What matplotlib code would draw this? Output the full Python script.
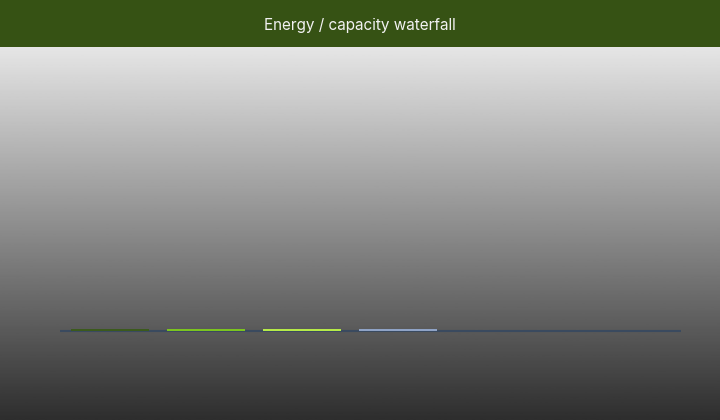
import numpy as np
import matplotlib
matplotlib.use('Agg')
import matplotlib.pyplot as plt

# waterfall data (steps are all close to zero on this scale)
steps = ['Step 1', 'Step 2', 'Step 3', 'Step 4']
values = [2.0, 0.0, 0.0, 0.0]
heights = [2.0, 2.0, 2.0, 2.0]
colors = ['#3b5a1c', '#7cc41f', '#b6ea48', '#8fa3c6']
title = 'Energy / capacity waterfall'

fig = plt.figure(figsize=(7.2, 4.2), dpi=100)

# gradient background below the title bar
bg = fig.add_axes([0, 0, 1, 373 / 420])
grad = np.linspace(0.90, 0.18, 256).reshape(-1, 1)
bg.imshow(grad, aspect='auto', cmap='gray', vmin=0, vmax=1, extent=[0, 1, 0, 1])
bg.set_axis_off()

# title bar
bar = fig.add_axes([0, 373 / 420, 1, 47 / 420])
bar.set_facecolor('#365214')
bar.set_xticks([])
bar.set_yticks([])
for s in bar.spines.values():
    s.set_visible(False)
bar.text(0.5, 0.45, title, ha='center', va='center', color='#f2f2f2',
         fontsize=11, family=['Inter', 'DejaVu Sans'])

# plot area
ax = fig.add_axes([60 / 720, 0, 621 / 720, 373 / 420])
ax.patch.set_alpha(0)
x = np.arange(len(steps))
ax.axhline(0, color='#3a4a5f', linewidth=1.5, zorder=1)
ax.bar(x, heights, width=0.82, color=colors, linewidth=0, zorder=2)
ax.set_xlim(-0.52, 5.95)
ax.set_ylim(-89, 284)
ax.set_axis_off()

plt.savefig('out.png', dpi=100)
